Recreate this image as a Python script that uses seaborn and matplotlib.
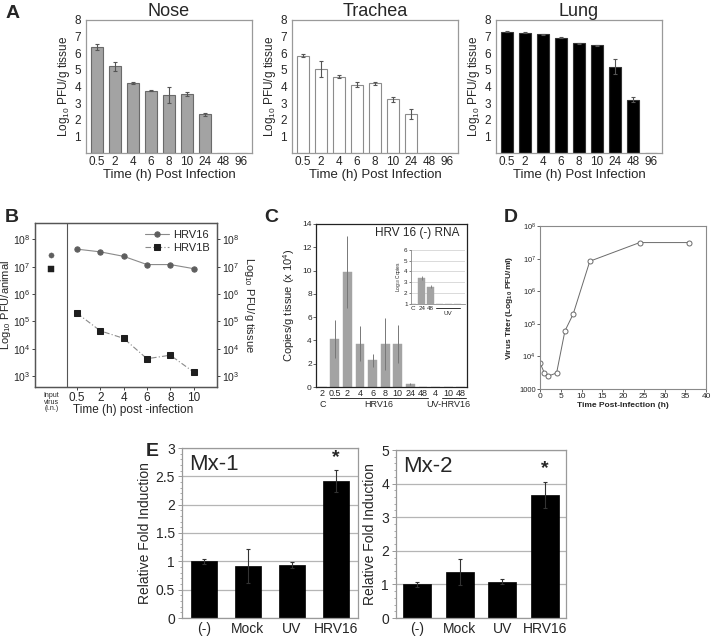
import numpy as np
import pandas as pd
import matplotlib
matplotlib.use("Agg")
import matplotlib.pyplot as plt
import seaborn as sns
from matplotlib.ticker import NullLocator, MultipleLocator
from matplotlib.transforms import blended_transform_factory

# ---------------- data ----------------
a_times = ["0.5", "2", "4", "6", "8", "10", "24", "48", "96"]
nose_mean = [6.36, 5.22, 4.2, 3.74, 3.48, 3.54, 2.32, 0, 0]
nose_err = [0.17, 0.27, 0.06, 0.03, 0.48, 0.1, 0.1, 0, 0]
trachea_mean = [5.86, 5.04, 4.6, 4.1, 4.2, 3.24, 2.36, 0, 0]
trachea_err = [0.08, 0.47, 0.1, 0.15, 0.1, 0.15, 0.3, 0, 0]
lung_mean = [7.28, 7.24, 7.14, 6.94, 6.6, 6.48, 5.2, 3.2, 0]
lung_err = [0.03, 0.03, 0.03, 0.03, 0.03, 0.03, 0.44, 0.16, 0]

b_times = ["0.5", "2", "4", "6", "8", "10"]
b_input_hrv16 = 2.8e7
b_input_hrv1b = 8.5e6
b_hrv16 = [4.4e7, 3.5e7, 2.4e7, 1.2e7, 1.2e7, 8.5e6]
b_hrv1b = [2.0e5, 4.5e4, 2.4e4, 4.3e3, 5.8e3, 1.4e3]

c_labels = ["2", "0.5", "2", "4", "6", "8", "10", "24", "48", "4", "10", "48"]
c_mean = [0, 4.1, 9.9, 3.7, 2.3, 3.7, 3.7, 0.25, 0, 0, 0, 0]
c_err = [0, 1.65, 3.1, 1.5, 0.55, 2.2, 1.6, 0.1, 0, 0, 0, 0]

inset_labels = ["C", "24", "48", "", "", ""]
inset_mean = [1.0, 3.4, 2.6, 1.0, 1.0, 1.0]
inset_err = [0, 0.15, 0.12, 0, 0, 0]

d_time = [0, 1, 2, 4, 6, 8, 12, 24, 36]
d_titer = [6.4e3, 3.2e3, 2.5e3, 3.1e3, 6.0e4, 2.0e5, 8.3e6, 3.1e7, 3.1e7]

e_groups = ["(-)", "Mock", "UV", "HRV16"]
mx1_mean = [1.0, 0.92, 0.94, 2.42]
mx1_err = [0.04, 0.3, 0.05, 0.2]
mx2_mean = [1.0, 1.36, 1.08, 3.66]
mx2_err = [0.07, 0.39, 0.07, 0.4]

# ---------------- style ----------------
sns.set_theme(style="white")
plt.rcParams['font.family'] = ['Liberation Sans', 'DejaVu Sans']
plt.rcParams['mathtext.fontset'] = 'custom'
plt.rcParams['mathtext.rm'] = 'Liberation Sans'
plt.rcParams['mathtext.it'] = 'Liberation Sans:italic'
plt.rcParams['mathtext.bf'] = 'Liberation Sans:bold'

W, H = 711, 636
fig = plt.figure(figsize=(W / 100, H / 100), dpi=100)


def add_ax(l, t, r, b):
    return fig.add_axes([l / W, 1 - b / H, (r - l) / W, (b - t) / H])


def style_spines(ax, color, lw=0.9):
    for s in ax.spines.values():
        s.set_visible(True)
        s.set_color(color)
        s.set_linewidth(lw)


def bars(ax, means, errs, face, edge, width, ecolor, capsize, lw=0.8, elw=0.8):
    idx = list(range(len(means)))
    df = pd.DataFrame({"x": idx, "v": means})
    sns.barplot(data=df, x="x", y="v", color=face, edgecolor=edge, linewidth=lw,
                width=width, saturation=1, errorbar=None, ax=ax)
    xs = [i for i, e in zip(idx, errs) if e > 0]
    ys = [m for m, e in zip(means, errs) if e > 0]
    es = [e for e in errs if e > 0]
    ax.errorbar(xs, ys, yerr=es, fmt='none', ecolor=ecolor, elinewidth=elw,
                capsize=capsize, capthick=elw, zorder=5)
    ax.set_xlabel("")
    ax.set_ylabel("")


# ---------------- panel A ----------------
a_specs = [
    ("Nose", nose_mean, nose_err, "#a3a3a3", "#6a6a6a", (86, 20, 252, 153)),
    ("Trachea", trachea_mean, trachea_err, "white", "#8c8c8c", (292, 20, 458, 153)),
    ("Lung", lung_mean, lung_err, "black", "#333333", (496, 20, 662, 153)),
]
for title, m, e, face, edge, box in a_specs:
    ax = add_ax(*box)
    bars(ax, m, e, face, edge, 0.68, "#555555", 1.5)
    ax.set_ylim(0, 8)
    ax.set_xlim(-0.6, 8.6)
    ax.set_yticks(range(1, 9))
    ax.set_yticklabels([str(i) for i in range(1, 9)], fontsize=8.5)
    ax.set_xticks(range(9))
    ax.set_xticklabels(a_times, fontsize=8.5)
    ax.tick_params(axis='y', length=2, width=0.6, color="#888888", pad=1.5)
    ax.tick_params(axis='x', length=0, pad=2)
    ax.set_title(title, fontsize=13, pad=3)
    ax.set_xlabel("Time (h) Post Infection", fontsize=9.5, labelpad=1)
    ax.set_ylabel("Log$_{10}$ PFU/g tissue", fontsize=8.5, labelpad=2)
    style_spines(ax, "#9a9a9a")

# ---------------- panel B ----------------
axb = add_ax(35, 223, 217, 387)
xpos = list(range(len(b_times)))
x_in = -1.1
df16 = pd.DataFrame({"x": xpos, "v": b_hrv16})
df1b = pd.DataFrame({"x": xpos, "v": b_hrv1b})
sns.lineplot(data=df16, x="x", y="v", ax=axb, color="#8a8a8a", lw=0.8, marker="o",
             markersize=3.8, markerfacecolor="#5e5e5e", markeredgecolor="#5e5e5e", label="HRV16")
sns.lineplot(data=df1b, x="x", y="v", ax=axb, color="#8a8a8a", lw=0.8, marker="s",
             markersize=4, markerfacecolor="#1e1e1e", markeredgecolor="#1e1e1e",
             dashes=(5, 2, 1, 2), label="HRV1B")
sns.scatterplot(x=[x_in], y=[b_input_hrv16], ax=axb, marker="o", s=14, color="#5e5e5e",
                edgecolor="#5e5e5e", legend=False)
sns.scatterplot(x=[x_in], y=[b_input_hrv1b], ax=axb, marker="s", s=16, color="#1e1e1e",
                edgecolor="#1e1e1e", legend=False)
axb.set_yscale("log")
axb.set_ylim(10 ** 2.6, 10 ** 8.6)
axb.set_xlim(-1.8, 6.0)
axb.axvline(-0.43, color="#555555", lw=0.8)
axb.set_yticks([10 ** k for k in range(3, 9)])
axb.yaxis.set_minor_locator(NullLocator())
axb.tick_params(axis='y', labelsize=7.5, length=2.5, width=0.6, pad=1, direction='out', left=True)
axb.set_xticks(xpos)
axb.set_xticklabels(b_times, fontsize=8.5)
axb.tick_params(axis='x', length=2.5, width=0.6, pad=1, direction='out', bottom=True)
axb.set_xlabel("Time (h) post -infection", fontsize=8.5, labelpad=0, x=0.54)
axb.set_ylabel("Log$_{10}$ PFU/animal", fontsize=8, labelpad=0)
tr = blended_transform_factory(axb.transData, axb.transAxes)
axb.text(x_in, -0.03, "Input\nvirus\n(i.n.)", transform=tr, ha="center", va="top",
         fontsize=5, linespacing=0.95)
leg = axb.legend(loc="upper right", frameon=False, fontsize=8, handlelength=2.2,
                 borderaxespad=0.2, handletextpad=0.4, labelspacing=0.3)
style_spines(axb, "#555555")
axr = axb.twinx()
axr.set_yscale("log")
axr.set_ylim(10 ** 2.6, 10 ** 8.6)
axr.set_yticks([10 ** k for k in range(3, 9)])
axr.yaxis.set_minor_locator(NullLocator())
axr.tick_params(axis='y', labelsize=7.5, length=2.5, width=0.6, pad=1, direction='out', right=True)
axr.set_ylabel("Log$_{10}$ PFU/g tissue", fontsize=8, rotation=270, va="bottom", labelpad=2)
style_spines(axr, "#555555")

# ---------------- panel C ----------------
axc = add_ax(316, 224, 467, 387)
bars(axc, c_mean, c_err, "#a3a3a3", "#a3a3a3", 0.7, "#777777", 0, lw=0.3, elw=0.7)
axc.set_ylim(0, 14)
axc.set_xlim(-0.5, 11.5)
axc.set_yticks(range(0, 15, 2))
axc.set_yticklabels([str(i) for i in range(0, 15, 2)], fontsize=6)
axc.set_xticks(range(len(c_labels)))
axc.set_xticklabels(c_labels, fontsize=6.5)
axc.tick_params(axis='x', length=0, pad=1.5)
axc.tick_params(axis='y', length=2, width=0.5, pad=1, left=True)
axc.set_ylabel("Copies/g tissue (x 10$^4$)", fontsize=8, labelpad=4)
style_spines(axc, "#222222", lw=0.9)
axc.text(0.67, 0.945, "HRV 16 (-) RNA", transform=axc.transAxes, ha="center", va="center",
         fontsize=8.5)
trc = blended_transform_factory(axc.transData, axc.transAxes)
axc.text(0, -0.105, "C", transform=trc, ha="center", va="center", fontsize=6.5)
axc.plot([0.6, 8.4], [-0.068, -0.068], transform=trc, color="#333333", lw=0.7, clip_on=False)
axc.text(4.5, -0.105, "HRV16", transform=trc, ha="center", va="center", fontsize=6.5)
axc.plot([9.55, 11.45], [-0.068, -0.068], transform=trc, color="#333333", lw=0.7, clip_on=False)
axc.text(10.0, -0.105, "UV-HRV16", transform=trc, ha="center", va="center", fontsize=6.5)

# inset
axi = add_ax(411, 249.7, 465, 304)
bars(axi, inset_mean, inset_err, "#a3a3a3", "#a3a3a3", 0.75, "#777777", 0, lw=0.3, elw=0.6)
axi.set_ylim(1, 6)
axi.set_xlim(-0.2, 5.8)
axi.set_yticks(range(1, 7))
axi.set_yticklabels([str(i) for i in range(1, 7)], fontsize=4.5)
axi.set_xticks(range(3))
axi.set_xticklabels(inset_labels[:3], fontsize=4.5)
axi.tick_params(axis='x', length=0, pad=1.5)
axi.tick_params(axis='y', length=1.5, width=0.4, pad=1, left=True)
axi.grid(axis='y', color="#cccccc", lw=0.5)
axi.set_axisbelow(True)
for s in ["top", "right"]:
    axi.spines[s].set_visible(False)
for s in ["left", "bottom"]:
    axi.spines[s].set_color("#888888")
    axi.spines[s].set_linewidth(0.6)
axi.set_ylabel("Log$_{10}$ Copies", fontsize=3.5, labelpad=1)
tri = blended_transform_factory(axi.transData, axi.transAxes)
axi.plot([2.6, 5.2], [-0.08, -0.08], transform=tri, color="#333333", lw=0.7, clip_on=False)
axi.text(3.9, -0.17, "UV", transform=tri, ha="center", va="center", fontsize=4.5)

# ---------------- panel D ----------------
axd = add_ax(540, 226, 706, 389)
dfd = pd.DataFrame({"t": d_time, "v": d_titer})
sns.lineplot(data=dfd, x="t", y="v", ax=axd, color="#6a6a6a", lw=0.7, marker="o",
             markersize=3.6, markerfacecolor="white", markeredgecolor="#6a6a6a", markeredgewidth=0.7)
axd.set_yscale("log")
axd.set_ylim(1e3, 1e8)
axd.set_xlim(0, 40)
axd.set_yticks([10 ** k for k in range(3, 9)])
axd.set_yticklabels(["1000", "10$^4$", "10$^5$", "10$^6$", "10$^7$", "10$^8$"], fontsize=5.5)
axd.yaxis.set_minor_locator(NullLocator())
axd.set_xticks(range(0, 41, 5))
axd.set_xticklabels([str(i) for i in range(0, 41, 5)], fontsize=6)
axd.tick_params(axis='both', length=2, width=0.5, pad=1, left=True, bottom=True)
axd.set_xlabel("Time Post-Infection (h)", fontsize=6, fontweight="bold", labelpad=1)
axd.set_ylabel("Virus Titer (Log$_{\\mathbf{10}}$ PFU/ml)", fontsize=6, fontweight="bold", labelpad=3)
style_spines(axd, "#8a8a8a", lw=0.8)

# ---------------- panel E ----------------
e_specs = [
    ("Mx-1", mx1_mean, mx1_err, (182, 448, 358, 618), 3, 0.5, 0.1, 2.83, 0.59),
    ("Mx-2", mx2_mean, mx2_err, (396, 450, 566, 618), 5, 1, 0.2, 4.45, 0.66),
]
for name, m, e, box, ymax, step, minor, star_y, wdt in e_specs:
    ax = add_ax(*box)
    ax.grid(axis='y', color="#b5b5b5", lw=0.9)
    ax.set_axisbelow(True)
    bars(ax, m, e, "black", "black", wdt, "#333333", 1.5, lw=0.5, elw=0.8)
    ax.set_ylim(0, ymax)
    ax.set_xlim(-0.5, 3.5)
    ticks = np.arange(0, ymax + 1e-9, step)
    ax.set_yticks(ticks)
    ax.set_yticklabels([("%g" % t) for t in ticks], fontsize=10)
    ax.yaxis.set_minor_locator(MultipleLocator(minor))
    ax.tick_params(axis='y', which='major', length=3, width=0.6, color="#888888", pad=2, left=True)
    ax.tick_params(axis='y', which='minor', length=1.5, width=0.5, color="#888888", left=True)
    ax.set_xticks(range(4))
    ax.set_xticklabels(e_groups, fontsize=10)
    ax.tick_params(axis='x', length=0, pad=3)
    ax.set_ylabel("Relative Fold Induction", fontsize=10, labelpad=3)
    style_spines(ax, "#9a9a9a")
    ax.text(0.04, 0.9, name, transform=ax.transAxes, ha="left", va="center", fontsize=16)
    ax.text(3, star_y, "*", ha="center", va="center", fontsize=14, fontweight="bold")

# ---------------- panel letters ----------------
for letter, x, y in [("A", 13, 14), ("B", 12, 218), ("C", 271, 218), ("D", 511, 218), ("E", 152, 452)]:
    fig.text(x / W, 1 - y / H, letter, ha="center", va="center", fontsize=14, fontweight="bold")

fig.savefig("out.png", dpi=100)
